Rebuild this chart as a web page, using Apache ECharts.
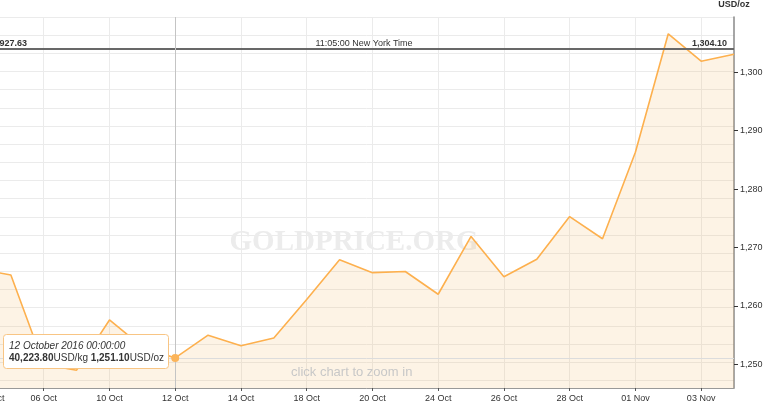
<!DOCTYPE html>
<html><head><meta charset="utf-8">
<script src="https://cdn.jsdelivr.net/npm/echarts@6/dist/echarts.min.js"></script>
<style>html,body{margin:0;padding:0;background:#fff}#c{width:768px;height:414px}</style>
</head><body><div id="c"></div>
<script>
// ---- data ----
const categories = ['04 Oct','05 Oct','06 Oct','07 Oct','10 Oct','11 Oct','12 Oct','13 Oct','14 Oct','17 Oct','18 Oct','19 Oct','20 Oct','21 Oct','24 Oct','25 Oct','26 Oct','27 Oct','28 Oct','31 Oct','01 Nov','02 Nov','03 Nov','04 Nov'];
const usdPerOz = [1266.3,1265.3,1250.0,1249.0,1257.6,1253.0,1251.1,1255.0,1253.2,1254.5,1261.1,1267.9,1265.7,1265.9,1262.0,1271.9,1265.0,1268.0,1275.3,1271.5,1286.3,1306.6,1301.9,1303.1];
const ozPerKg = 32.1507466;
const currentOz = 1304.10;
const currentKg = 41927.63;
const currentTime = '11:05:00 New York Time';
const hoverIndex = 6;
const hoverLabel = '12 October 2016 00:00:00';
const ozRange = [1245.95, 1309.47];
const ozTickStep = 10;
const kgTickStep = 100;

const fmt2 = v => v.toLocaleString('en-US', {minimumFractionDigits: 2, maximumFractionDigits: 2});
const font = "'Liberation Sans', Arial, sans-serif";
const chart = echarts.init(document.getElementById('c'), null, {renderer: 'canvas'});

const hoverOz = usdPerOz[hoverIndex];
const hoverKg = hoverOz * ozPerKg;

const option = {
  animation: false,
  textStyle: {fontFamily: font},
  grid: {left: -22, right: 34, top: 17, bottom: 26, containLabel: false, outerBoundsMode: 'none'},
  xAxis: {
    type: 'category', data: categories, boundaryGap: false,
    axisLine: {lineStyle: {color: '#999', width: 1}},
    axisTick: {show: true, interval: 1, length: 3, lineStyle: {color: '#555'}},
    axisLabel: {interval: 1, color: '#333', fontSize: 9, margin: 6, fontFamily: font, alignMinLabel: 'left'},
    splitLine: {show: true, interval: 1, lineStyle: {color: '#ebebeb', width: 1}}
  },
  yAxis: [
    {
      type: 'value', position: 'right', min: ozRange[0], max: ozRange[1],
      minInterval: ozTickStep, maxInterval: ozTickStep,
      name: 'USD/oz', nameLocation: 'end', nameGap: 8,
      nameTextStyle: {fontWeight: 'bold', fontSize: 9, color: '#333', fontFamily: font},
      axisLine: {show: true, lineStyle: {color: '#888', width: 1.5}},
      axisTick: {show: true, length: 4, lineStyle: {color: '#333'}},
      axisLabel: {color: '#333', fontSize: 9, margin: 6, fontFamily: font, showMinLabel: false, showMaxLabel: false},
      splitLine: {show: false}
    },
    {
      type: 'value', position: 'left', min: ozRange[0] * ozPerKg, max: ozRange[1] * ozPerKg,
      minInterval: kgTickStep, maxInterval: kgTickStep,
      axisLine: {show: false}, axisTick: {show: false}, axisLabel: {show: false},
      splitLine: {show: true, lineStyle: {color: '#ebebeb', width: 1}}
    }
  ],
  series: [{
    type: 'line', data: usdPerOz, yAxisIndex: 0,
    showSymbol: false, symbol: 'none', silent: true,
    lineStyle: {color: '#fdb04e', width: 1.6},
    itemStyle: {color: '#fdb04e'},
    areaStyle: {color: 'rgba(245,185,100,0.24)'},
    markLine: {
      silent: true, symbol: 'none', animation: false,
      data: [
        {yAxis: currentOz, lineStyle: {color: '#666', width: 1.5, type: 'solid'},
         label: {show: true, position: 'insideStartTop', formatter: fmt2(currentKg), fontWeight: 'bold', fontSize: 9, color: '#333', fontFamily: font, distance: [9, 0]}},
        {yAxis: currentOz, lineStyle: {color: '#666', width: 1.5, type: 'solid'},
         label: {show: true, position: 'insideMiddleTop', formatter: currentTime, fontSize: 9, color: '#333', fontFamily: font, distance: [0, 0], padding: [0, 0, 0, 16]}},
        {yAxis: currentOz, lineStyle: {color: '#666', width: 1.5, type: 'solid'},
         label: {show: true, position: 'insideEndTop', formatter: fmt2(currentOz), fontWeight: 'bold', fontSize: 9, color: '#333', fontFamily: font, distance: [7, 0]}},
        {xAxis: categories[hoverIndex], lineStyle: {color: '#c4c4c4', width: 1, type: 'solid'}, label: {show: false}},
        {yAxis: hoverOz, lineStyle: {color: '#dcdcdc', width: 1, type: 'solid'}, label: {show: false}}
      ]
    },
    markPoint: {
      symbol: 'circle', symbolSize: 8, silent: true, animation: false,
      itemStyle: {color: '#fbb45a'}, label: {show: false},
      data: [{coord: [categories[hoverIndex], hoverOz]}]
    }
  }],
  graphic: [
    {type: 'text', x: 354, y: 243, z: 1, silent: true,
     style: {text: 'GOLDPRICE.ORG', font: "bold 29px 'Liberation Serif', serif", fill: '#ececec', align: 'center', verticalAlign: 'middle', textAlign: 'center', textVerticalAlign: 'middle'}},
    {type: 'text', x: 291, y: 372, z: 5, silent: true,
     style: {text: 'click chart to zoom in', font: "13px 'Liberation Sans', Arial, sans-serif", fill: '#c8c8c8', verticalAlign: 'middle', textVerticalAlign: 'middle'}},
    {type: 'group', x: 3, y: 334, z: 100, silent: true, children: [
      {type: 'rect', z: 100, shape: {x: 0.5, y: 0.5, width: 165, height: 34, r: 3}, style: {fill: '#fff', stroke: '#f8c584', lineWidth: 1}},
      {type: 'text', z: 101, x: 6, y: 6, style: {
        text: '{i|' + hoverLabel + '}\n{b|' + fmt2(hoverKg) + '}{n|USD/kg }{b|' + fmt2(hoverOz) + '}{n|USD/oz}',
        rich: {
          i: {fontStyle: 'italic', fontSize: 10, lineHeight: 12, fill: '#333', fontFamily: font},
          b: {fontWeight: 'bold', fontSize: 10, lineHeight: 12, fill: '#333', fontFamily: font},
          n: {fontSize: 10, lineHeight: 12, fill: '#333', fontFamily: font}
        }
      }}
    ]}
  ]
};
chart.setOption(option);
</script>
</body></html>
